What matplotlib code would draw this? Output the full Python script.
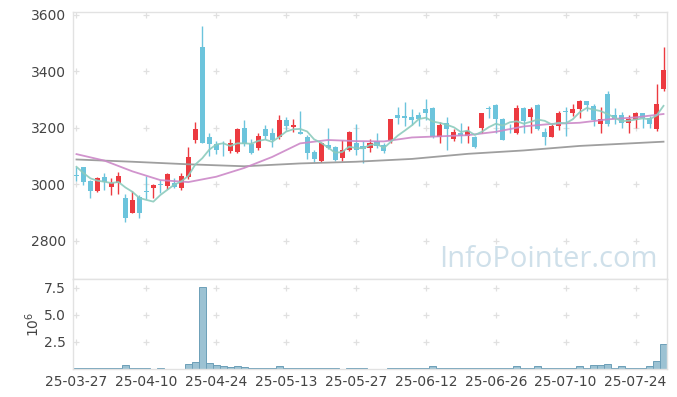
import matplotlib
matplotlib.use('Agg')
import matplotlib.pyplot as plt
import numpy as np
import pandas as pd

# ---------------- data ----------------
opens = [3032, 3060, 3012, 2977, 3027, 2990, 3004, 2950, 2900, 2956,
         2975, 2988, 3000, 2995, 3004, 2986, 3025, 3157, 3487, 3168,
         3143, 3122, 3118, 3113, 3198, 3143, 3130, 3196, 3183, 3166,
         3228, 3204, 3186, 3168, 3113, 3084, 3138, 3133, 3095, 3121,
         3147, 3136, 3128, 3154, 3140, 3152, 3245, 3242, 3237, 3244,
         3266, 3269, 3168, 3218, 3159, 3183, 3172, 3168, 3198, 3270,
         3281, 3231, 3193, 3180, 3269, 3240, 3281, 3186, 3168, 3206,
         3258, 3253, 3268, 3294, 3278, 3214, 3320, 3245, 3245, 3218,
         3226, 3251, 3234, 3197, 3337]
highs = [3060, 3062, 3015, 3026, 3040, 3023, 3045, 2966, 2975, 2962,
         3030, 3000, 3015, 3040, 3021, 3040, 3133, 3220, 3560, 3180,
         3155, 3155, 3160, 3198, 3228, 3160, 3180, 3210, 3198, 3245,
         3238, 3230, 3259, 3175, 3121, 3151, 3200, 3135, 3157, 3188,
         3212, 3155, 3160, 3183, 3147, 3233, 3272, 3290, 3268, 3257,
         3301, 3272, 3222, 3240, 3195, 3218, 3205, 3170, 3254, 3277,
         3284, 3235, 3212, 3280, 3272, 3272, 3283, 3198, 3212, 3259,
         3272, 3284, 3298, 3296, 3285, 3275, 3331, 3270, 3257, 3245,
         3257, 3252, 3242, 3356, 3486]
lows = [3012, 2998, 2952, 2972, 2980, 2963, 2966, 2866, 2898, 2880,
        2948, 2950, 2968, 2983, 2986, 2980, 3020, 3146, 3145, 3100,
        3108, 3100, 3110, 3112, 3135, 3108, 3122, 3160, 3132, 3160,
        3192, 3185, 3177, 3088, 3080, 3080, 3124, 3082, 3082, 3118,
        3105, 3074, 3115, 3128, 3112, 3148, 3212, 3207, 3210, 3208,
        3228, 3165, 3146, 3121, 3153, 3147, 3147, 3130, 3180, 3234,
        3182, 3156, 3180, 3179, 3183, 3180, 3194, 3140, 3166, 3192,
        3172, 3242, 3234, 3260, 3205, 3183, 3205, 3212, 3198, 3183,
        3200, 3198, 3198, 3190, 3330]
closes = [3028, 3010, 2977, 3021, 3010, 3005, 3029, 2880, 2944, 2900,
          2972, 2998, 2997, 3037, 2990, 3029, 3098, 3197, 3148, 3142,
          3120, 3120, 3148, 3196, 3142, 3112, 3171, 3171, 3157, 3228,
          3207, 3211, 3178, 3112, 3089, 3145, 3128, 3087, 3121, 3185,
          3121, 3124, 3146, 3136, 3118, 3231, 3234, 3234, 3228, 3230,
          3253, 3166, 3210, 3195, 3186, 3170, 3190, 3133, 3251, 3268,
          3230, 3158, 3191, 3269, 3225, 3265, 3197, 3168, 3206, 3254,
          3256, 3266, 3294, 3281, 3226, 3230, 3214, 3230, 3218, 3233,
          3252, 3234, 3214, 3284, 3405]
# closes of the 4 sessions before the window (for the 5-day average)
pre_closes = [3120, 3072, 3061, 3029]

# volume, millions of shares
volumes = [0.1, 0.1, 0.1, 0.1, 0.1, 0.1, 0.1, 0.37, 0.1, 0.1,
           0.1, 0.0, 0.1, 0.0, 0.0, 0.0, 0.49, 0.65, 7.6, 0.58,
           0.4, 0.3, 0.18, 0.28, 0.15, 0.1, 0.1, 0.1, 0.1, 0.3,
           0.1, 0.1, 0.1, 0.1, 0.1, 0.1, 0.1, 0.1, 0.0, 0.1,
           0.1, 0.1, 0.0, 0.0, 0.0, 0.1, 0.1, 0.1, 0.1, 0.1,
           0.1, 0.3, 0.1, 0.1, 0.1, 0.1, 0.1, 0.1, 0.1, 0.1,
           0.1, 0.1, 0.1, 0.3, 0.1, 0.1, 0.3, 0.1, 0.1, 0.1,
           0.1, 0.1, 0.3, 0.1, 0.4, 0.4, 0.49, 0.1, 0.3, 0.1,
           0.1, 0.1, 0.3, 0.77, 2.34]

# 20-day moving average (read at sampled sessions)
ma20_idx = [0, 4, 8, 12, 16, 20, 24, 28, 32, 36, 40, 44, 48, 52, 56, 60, 64, 68, 72, 76, 80, 84]
ma20_val = [3107, 3084, 3046, 3015, 3008, 3027, 3058, 3097, 3145, 3157, 3153,
            3152, 3166, 3170, 3174, 3186, 3205, 3214, 3218, 3230, 3237, 3249]
# 60-day moving average (read at sampled sessions)
ma60_idx = [0, 8, 16, 24, 32, 40, 48, 56, 64, 72, 80, 84]
ma60_val = [3088, 3080, 3071, 3064, 3074, 3080, 3090, 3108, 3120, 3136, 3146, 3151]

tick_labels = ['25-03-27', '25-04-10', '25-04-24', '25-05-13', '25-05-27',
               '25-06-12', '25-06-26', '25-07-10', '25-07-24']
price_ticks = [2800, 3000, 3200, 3400, 3600]
vol_ticks = [2.5, 5.0, 7.5]

# ---------------- derived ----------------
n = len(closes)
x = np.arange(n)
o = np.array(opens, float)
h = np.array(highs, float)
l = np.array(lows, float)
c = np.array(closes, float)
ma5 = pd.Series(pre_closes + closes).rolling(5).mean().to_numpy()[len(pre_closes):]

RED = '#ec3a40'
BLUE = '#6cc4dc'
GRID = '#e0e0e0'
SPINE = '#e2e2e2'
TXT = '#444444'

fig = plt.figure(figsize=(6.77, 3.97), dpi=100)
ax = fig.add_axes([73 / 677, 1 - 279 / 397, 594 / 677, 267 / 397])
ax2 = fig.add_axes([73 / 677, 1 - 369 / 397, 594 / 677, 90 / 397])

up = c >= o
colors = np.where(up, RED, BLUE)

# grid "+" markers
xt = np.arange(0, n, 10)[:len(tick_labels)]
gx, gy = np.meshgrid(xt, price_ticks)
ax.scatter(gx.ravel(), gy.ravel(), marker='+', s=16, color=GRID, linewidths=0.9, zorder=0)
gx2, gy2 = np.meshgrid(xt, vol_ticks)
ax2.scatter(gx2.ravel(), gy2.ravel(), marker='+', s=16, color=GRID, linewidths=0.9, zorder=0)

# candles
ax.vlines(x, l, h, colors=colors, linewidth=1.0, zorder=2)
body_bottom = np.minimum(o, c)
body_h = np.maximum(np.abs(c - o), 3)
ax.bar(x, body_h, bottom=body_bottom, width=0.72, color=colors, linewidth=0, zorder=3)

# moving averages
ax.plot(ma60_idx, ma60_val, color='#9a9a9a', linewidth=1.3, zorder=4, alpha=0.95)
ax.plot(ma20_idx, ma20_val, color='#cc88c8', linewidth=1.3, zorder=4, alpha=0.9)
ax.plot(x, ma5, color='#8ccbbd', linewidth=1.3, zorder=4, alpha=0.9)

ax.set_xlim(-0.5, n - 0.5)
ax.set_ylim(2665, 3610)
ax.set_yticks(price_ticks)
ax.set_xticks(xt)
ax.tick_params(axis='x', labelbottom=False, length=0)
ax.tick_params(axis='y', length=0, labelsize=10, labelcolor=TXT, pad=5)

ax.text(0.985, 0.045, 'InfoPointer.com', transform=ax.transAxes, ha='right',
        va='baseline', fontsize=21, color='#cfe0ea', family='Open Sans', zorder=1)

# volume
ax2.bar(x, volumes, width=1.0, color='#9cc2d3', edgecolor='#6d9fb8', linewidth=0.7, zorder=2)
ax2.set_xlim(-0.5, n - 0.5)
ax2.set_ylim(0, 8.3)
ax2.set_yticks(vol_ticks)
ax2.set_yticklabels(['2.5', '5.0', '7.5'])
ax2.set_xticks(xt)
ax2.set_xticklabels(tick_labels)
ax2.tick_params(axis='x', length=0, labelsize=10, labelcolor=TXT, pad=4)
ax2.tick_params(axis='y', length=0, labelsize=10, labelcolor=TXT, pad=5)
ax2.text(-0.068, 0.5, r'$10^6$', rotation=90, transform=ax2.transAxes,
         ha='center', va='center', fontsize=10, color=TXT)

for a in (ax, ax2):
    for s in a.spines.values():
        s.set_color(SPINE)
        s.set_linewidth(1.0)
    a.set_facecolor('white')

fig.savefig('out.png', dpi=100, facecolor='white')
